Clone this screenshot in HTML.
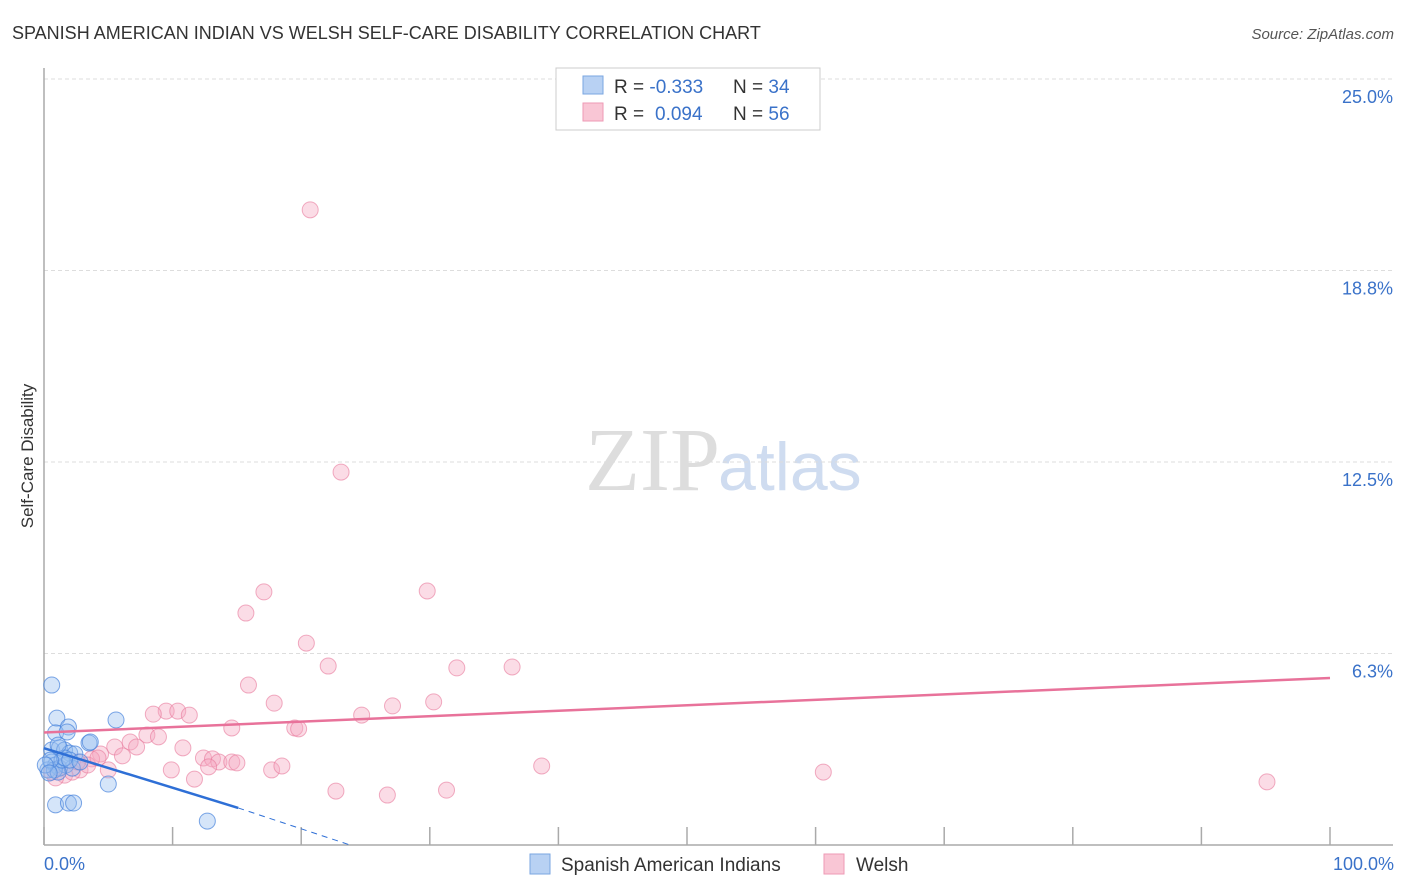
<!DOCTYPE html>
<html><head><meta charset="utf-8"><style>
body{margin:0;background:#fff;font-family:"Liberation Sans",sans-serif;}
svg{display:block}
</style></head><body>
<svg width="1406" height="892" id="c">
<text x="12" y="39" font-size="18" fill="#333">SPANISH AMERICAN INDIAN VS WELSH SELF-CARE DISABILITY CORRELATION CHART</text>
<text x="1394" y="39" font-size="15" fill="#555" font-style="italic" text-anchor="end">Source: ZipAtlas.com</text>
<text x="33" y="456" font-size="17" fill="#333" text-anchor="middle" transform="rotate(-90 33 456)">Self-Care Disability</text>
<text x="720" y="490" font-size="90" fill="#ddd" text-anchor="end" font-family="Liberation Serif,serif">ZIP</text>
<text x="718" y="490" font-size="68" fill="#cfdcf0">atlas</text>
<g id="grid"></g><g id="pts"></g><g id="trend"></g>
<g>
<rect x="556" y="68" width="264" height="62" fill="#fff" stroke="#ccc"/>
<rect x="583" y="76" width="20" height="18" fill="#b8d1f3" stroke="#7aa6e0"/>
<rect x="583" y="103" width="20" height="18" fill="#f9c6d5" stroke="#ee9ab5"/>
<text x="614" y="93" font-size="19" fill="#333">R = <tspan fill="#3a72c9">-0.333</tspan><tspan x="733">N = </tspan><tspan fill="#3a72c9">34</tspan></text>
<text x="614" y="120" font-size="19" fill="#333">R = <tspan fill="#3a72c9" x="655">0.094</tspan><tspan x="733">N = </tspan><tspan fill="#3a72c9">56</tspan></text>
</g>
<g>
<rect x="530" y="854" width="20" height="20" fill="#b8d1f3" stroke="#7aa6e0"/>
<text x="561" y="871" font-size="19" fill="#333">Spanish American Indians</text>
<rect x="824" y="854" width="20" height="20" fill="#f9c6d5" stroke="#ee9ab5"/>
<text x="856" y="871" font-size="19" fill="#333">Welsh</text>
</g>
<text x="44" y="870" font-size="18" fill="#3a72c9">0.0%</text>
<text x="1394" y="870" font-size="18" fill="#3a72c9" text-anchor="end">100.0%</text>
</svg>
<script>
const yTicks=[25,18.75,12.5,6.25];
const yTickLabels=["25.0%","18.8%","12.5%","6.3%"];
const xTicks=[0,10,20,30,40,50,60,70,80,90,100];
const blueX=[0.6,1,1.9,0.9,1.8,5.6,3.5,3.6,0.6,1.2,1.6,2,2.4,0.6,0.9,1.2,1.7,2.2,0.3,0.8,1.1,5,0.9,1.9,2.3,12.7,1.4,1.6,0.5,0.1,0.4,2,2.8,1.1];
const blueY=[5.22,4.14,3.85,3.66,3.69,4.08,3.33,3.36,3.10,3.17,3.10,3.00,2.97,2.71,2.61,2.51,2.61,2.51,2.45,2.45,2.38,1.99,1.31,1.37,1.37,0.78,2.77,2.84,2.77,2.61,2.35,2.77,2.71,3.26];
const pinkX=[20.7,23.1,17.1,29.8,15.7,20.4,22.1,32.1,36.4,15.9,17.9,30.3,27.1,9.5,10.4,11.3,8.5,24.7,14.6,19.5,19.8,8,8.9,10.8,6.7,7.2,5.5,4.4,6.1,3.7,12.4,13.1,13.6,14.6,15,12.8,9.9,17.7,18.5,38.7,60.6,11.7,22.7,26.7,31.3,95.1,5,2.8,1.6,0.9,2.2,3.4,1.2,0.6,2.6,4.2];
const pinkY=[20.73,12.17,8.26,8.29,7.57,6.59,5.84,5.78,5.81,5.22,4.63,4.67,4.54,4.37,4.37,4.24,4.27,4.24,3.82,3.82,3.79,3.59,3.53,3.17,3.36,3.20,3.20,2.97,2.91,2.81,2.84,2.81,2.71,2.71,2.68,2.55,2.45,2.45,2.58,2.58,2.38,2.15,1.76,1.63,1.79,2.06,2.45,2.45,2.28,2.19,2.38,2.61,2.51,2.38,2.71,2.84];
const pinkTrend=[3.67,5.45];
const blueTrend=[3.16,1.21,0];
const blueTrendX=[0,15.1,23.8];
const X=v=>44+v*12.86, Y=v=>845-v*30.64;
const NS="http://www.w3.org/2000/svg";
function mk(tag,attrs,parent){const e=document.createElementNS(NS,tag);for(const k in attrs)e.setAttribute(k,attrs[k]);document.getElementById(parent).appendChild(e);return e;}
yTicks.forEach((t,i)=>{
const l=mk('line',{x1:44,x2:1393,y1:Y(t),y2:Y(t),stroke:'#ddd','stroke-dasharray':'4,3'},'grid');


const tx=mk('text',{x:1393,y:Y(t)+24,'font-size':18,fill:'#3a72c9','text-anchor':'end'},'grid');
tx.textContent=yTickLabels[i];


});
const ax=mk('line',{x1:44,x2:1393,y1:845,y2:845,stroke:'#aaa','stroke-width':1.5},'grid');


const ay=mk('line',{x1:44,x2:44,y1:68,y2:845,stroke:'#aaa','stroke-width':1.5},'grid');


xTicks.forEach(t=>{
const l=mk('line',{x1:X(t),x2:X(t),y1:827,y2:845,stroke:'#aaa','stroke-width':1.5},'grid');


});
pinkX.forEach((v,i)=>{
const c=mk('circle',{cx:X(v),cy:Y(pinkY[i]),r:8,fill:'rgba(246,168,192,0.4)',stroke:'rgba(232,120,155,0.6)','stroke-width':1},'pts');


});
blueX.forEach((v,i)=>{
const c=mk('circle',{cx:X(v),cy:Y(blueY[i]),r:8,fill:'rgba(150,190,240,0.4)',stroke:'rgba(70,130,220,0.7)','stroke-width':1},'pts');


});
const pt=mk('line',{x1:X(0),y1:Y(pinkTrend[0]),x2:X(100),y2:Y(pinkTrend[1]),stroke:'#e8729a','stroke-width':2.5},'trend');


const bt=mk('line',{x1:X(blueTrendX[0]),y1:Y(blueTrend[0]),x2:X(blueTrendX[1]),y2:Y(blueTrend[1]),stroke:'#2e6fd6','stroke-width':2.5},'trend');


const bd=mk('line',{x1:X(blueTrendX[1]),y1:Y(blueTrend[1]),x2:X(blueTrendX[2]),y2:Y(blueTrend[2]),stroke:'#2e6fd6','stroke-width':1,'stroke-dasharray':'6,5'},'trend');


</script>
</body></html>
